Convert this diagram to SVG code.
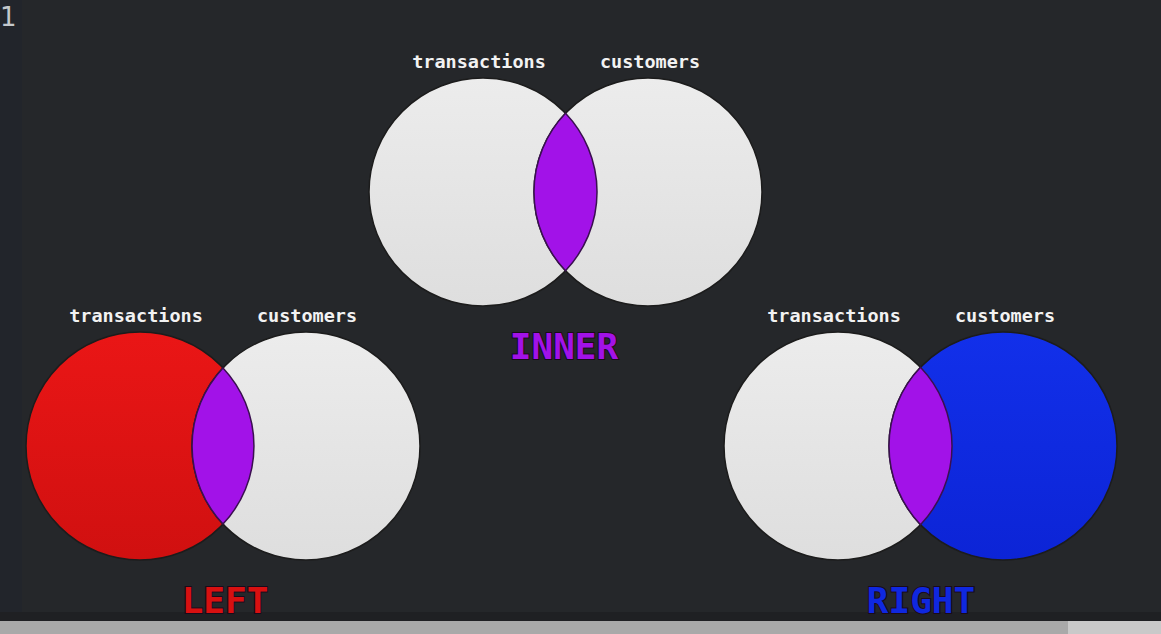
<svg xmlns="http://www.w3.org/2000/svg" width="1161" height="634" viewBox="0 0 1161 634">
<style>
.lbl{font-family:"DejaVu Sans Mono","Liberation Mono",monospace;font-weight:bold;font-size:18.5px;fill:#f2f2f2;text-anchor:middle}
.big{font-family:"DejaVu Sans Mono","Liberation Mono",monospace;font-weight:bold;font-size:36px;text-anchor:middle;stroke:#1a0a1a;stroke-width:2;paint-order:stroke}
.c{fill:url(#gw);stroke:#1c1c1c;stroke-width:1.5}
.lens{fill:#a212e8;stroke:#3a1050;stroke-width:1.5}
</style>
<defs>
<linearGradient id="gw" x1="0" y1="0" x2="0" y2="1"><stop offset="0" stop-color="#ececec"/><stop offset="1" stop-color="#dedede"/></linearGradient>
<linearGradient id="gr" x1="0" y1="0" x2="0" y2="1"><stop offset="0" stop-color="#ea1616"/><stop offset="1" stop-color="#d01010"/></linearGradient>
<linearGradient id="gb" x1="0" y1="0" x2="0" y2="1"><stop offset="0" stop-color="#1230ea"/><stop offset="1" stop-color="#0c24d6"/></linearGradient>
</defs>
<rect width="1161" height="634" fill="#25272a"/>
<rect width="22" height="612" fill="#22252b"/>
<rect y="612" width="1161" height="9" fill="#1f2023"/>
<rect y="621" width="1161" height="13" fill="#a9a9a9"/>
<rect x="1068" y="621" width="93" height="13" fill="#c9c9c9"/>
<text x="0" y="26" font-family="DejaVu Sans, sans-serif" font-size="26" fill="#c4c8cc">1</text>
<g id="inner">
<circle class="c" cx="483" cy="192" r="114"/>
<circle class="c" cx="648" cy="192" r="114"/>
<path class="lens" d="M565.5 113.3 A114 114 0 0 0 565.5 270.7 A114 114 0 0 0 565.5 113.3 Z"/>
<text class="lbl" x="479" y="68">transactions</text>
<text class="lbl" x="650" y="68">customers</text>
<text class="big" x="564" y="359" fill="#a212e8">INNER</text>
</g>
<g id="left">
<circle cx="140" cy="446" r="114" fill="url(#gr)" stroke="#1c1c1c" stroke-width="1.5"/>
<circle class="c" cx="306" cy="446" r="114"/>
<path class="lens" d="M223 367.9 A114 114 0 0 0 223 524.1 A114 114 0 0 0 223 367.9 Z"/>
<text class="lbl" x="136" y="322">transactions</text>
<text class="lbl" x="307" y="322">customers</text>
<text class="big" x="225" y="613" fill="#d81010">LEFT</text>
</g>
<g id="right">
<circle class="c" cx="838" cy="446" r="114"/>
<circle cx="1003" cy="446" r="114" fill="url(#gb)" stroke="#1c1c1c" stroke-width="1.5"/>
<path class="lens" d="M920.5 367.3 A114 114 0 0 0 920.5 524.7 A114 114 0 0 0 920.5 367.3 Z"/>
<text class="lbl" x="834" y="322">transactions</text>
<text class="lbl" x="1005" y="322">customers</text>
<text class="big" x="921" y="613" fill="#0f28e0">RIGHT</text>
</g>
<g id="connectors"/>
</svg>
